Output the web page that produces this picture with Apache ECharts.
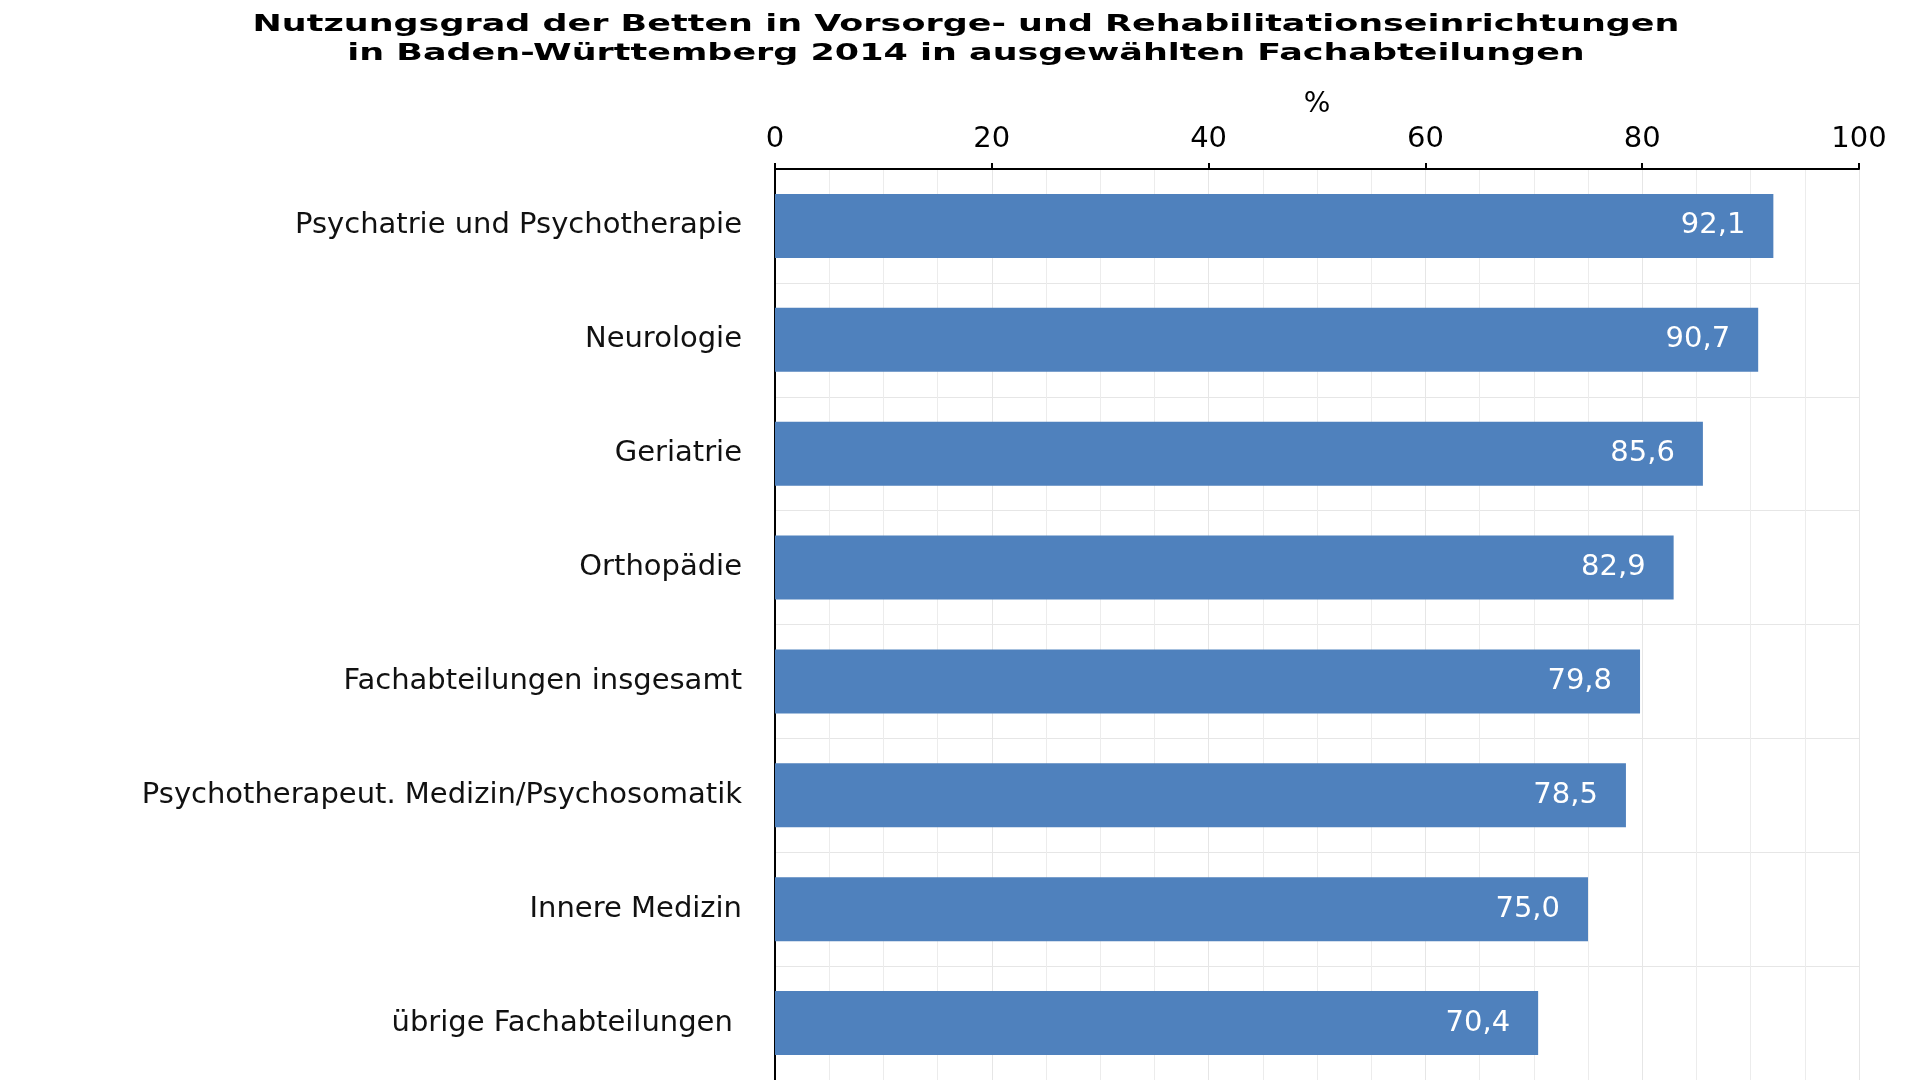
<!DOCTYPE html>
<html>
<head>
<meta charset="utf-8">
<script src="https://cdn.jsdelivr.net/npm/echarts@6/dist/echarts.min.js"></script>
<style>
  html, body { margin: 0; padding: 0; background: #fff; }
  #chart { width: 1908px; height: 1080px; }
</style>
</head>
<body>
<div id="chart"></div>
<script>
// Fachabteilungen (von oben nach unten)
var categories = [
    'Psychatrie und Psychotherapie',
    'Neurologie',
    'Geriatrie',
    'Orthopädie',
    'Fachabteilungen insgesamt',
    'Psychotherapeut. Medizin/Psychosomatik',
    'Innere Medizin',
    'übrige Fachabteilungen '
];
// Nutzungsgrad in %
var values = [92.1, 90.7, 85.6, 82.9, 79.8, 78.5, 75.0, 70.4];
var xTicks = [0, 20, 40, 60, 80, 100];

var titleText = 'Nutzungsgrad der Betten in Vorsorge- und Rehabilitationseinrichtungen\nin Baden-Württemberg 2014 in ausgewählten Fachabteilungen';

var font = '"DejaVu Sans", Verdana, sans-serif';
var myChart = echarts.init(document.getElementById('chart'));

myChart.setOption({
    animation: false,
    // Titel ist im Original breit gezogen -> als Grafik mit scaleX
    graphic: [{
        type: 'text',
        x: 966,
        y: 11,
        scaleX: 1.52,
        style: {
            text: titleText,
            align: 'center',
            verticalAlign: 'top',
            font: 'bold 23px ' + font,
            lineHeight: 29,
            fill: '#000'
        }
    }],
    grid: {
        left: 775,
        right: 49,
        top: 169,
        bottom: -4
    },
    xAxis: {
        type: 'value',
        position: 'top',
        min: xTicks[0],
        max: xTicks[xTicks.length - 1],
        interval: 20,
        name: '%',
        nameLocation: 'middle',
        nameGap: 50,
        nameTextStyle: { fontFamily: font, fontSize: 28, color: '#000' },
        axisLine: { show: true, lineStyle: { color: '#000', width: 2 } },
        axisTick: { show: true, length: 6, lineStyle: { color: '#000', width: 2 } },
        axisLabel: {
            margin: 15,
            fontFamily: font,
            fontSize: 29,
            color: '#000'
        },
        splitLine: { show: true, lineStyle: { color: '#e6e6e6', width: 1 } },
        minorTick: { show: false, splitNumber: 4 },
        minorSplitLine: { show: true, lineStyle: { color: '#ececec', width: 1 } }
    },
    yAxis: {
        type: 'category',
        inverse: true,
        data: categories,
        axisLine: { show: true, lineStyle: { color: '#000', width: 2 } },
        axisTick: { show: false },
        axisLabel: {
            margin: 33,
            padding: [4, 0, 0, 0],
            fontFamily: font,
            fontSize: 29,
            color: '#111'
        },
        splitLine: { show: true, lineStyle: { color: '#e6e6e6', width: 1 } }
    },
    series: [
        {
            type: 'bar',
            data: values,
            barWidth: 64,
            itemStyle: { color: '#4f81bd' },
            label: {
                show: true,
                position: 'insideRight',
                distance: 28,
                fontFamily: font,
                fontSize: 29,
                color: '#fff',
                formatter: function (p) {
                    return p.value.toFixed(1).replace('.', ',');
                }
            }
        }
    ]
});
</script>
</body>
</html>
